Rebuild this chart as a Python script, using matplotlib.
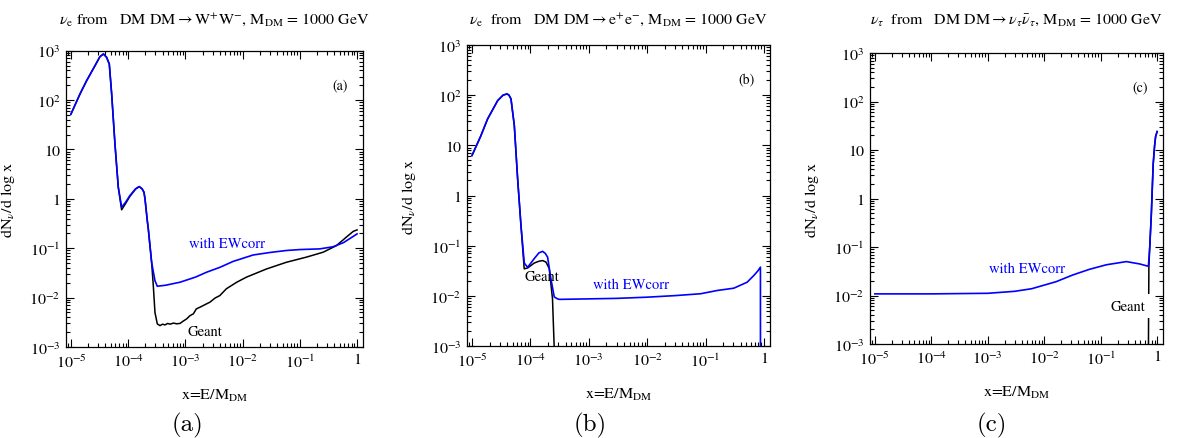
import matplotlib
matplotlib.use('Agg')
import matplotlib.pyplot as plt
from matplotlib.ticker import LogLocator, NullFormatter

plt.rcParams['font.family'] = 'STIXGeneral'
plt.rcParams['mathtext.fontset'] = 'stix'

# panel (a): nu_e from DM DM -> W+W-
a_x_ew = [1e-5, 1.44e-5, 1.88e-5, 2.63e-5, 3.21e-5, 3.7e-5, 4.2e-5, 4.68e-5, 5.15e-5, 5.88e-5,
          6.72e-5, 7.69e-5, 9e-5, 1.07e-4, 1.35e-4, 1.56e-4, 1.75e-4, 1.89e-4, 1.97e-4, 2.16e-4,
          2.25e-4, 2.57e-4, 2.94e-4, 3.23e-4, 4.5e-4, 8.05e-4, 1.5e-3, 2.35e-3, 4e-3, 6.8e-3,
          0.0153, 0.03, 0.058, 0.1, 0.223, 0.38, 0.58, 0.8, 1.0]
a_y_ew = [52, 133, 247, 496, 756, 858, 735, 537, 133, 12.9,
          1.72, 0.68, 0.85, 1.16, 1.6, 1.77, 1.6, 1.36, 1.0, 0.36,
          0.245, 0.052, 0.022, 0.017, 0.0178, 0.0205, 0.026, 0.0327, 0.041, 0.054,
          0.073, 0.082, 0.09, 0.094, 0.097, 0.107, 0.13, 0.165, 0.195]
a_x_geant = [1e-5, 1.44e-5, 1.88e-5, 2.63e-5, 3.21e-5, 3.7e-5, 4.2e-5, 4.68e-5, 5.15e-5, 5.88e-5,
             6.72e-5, 7.69e-5, 9e-5, 1.07e-4, 1.35e-4, 1.56e-4, 1.75e-4, 1.89e-4, 1.97e-4, 2.16e-4,
             2.25e-4, 2.57e-4, 2.75e-4, 2.94e-4, 3.23e-4, 3.6e-4, 4.0e-4, 4.4e-4, 4.9e-4, 5.4e-4,
             6.2e-4, 7e-4, 8.05e-4, 9e-4, 1.05e-3, 1.2e-3, 1.38e-3, 1.55e-3, 1.8e-3, 2.2e-3,
             2.69e-3, 3.3e-3, 4e-3, 5.2e-3, 7.9e-3, 0.0117, 0.0261, 0.0583, 0.13, 0.255,
             0.436, 0.65, 0.86, 1.0]
a_y_geant = [52, 133, 247, 496, 756, 858, 735, 537, 133, 12.9,
             1.72, 0.6, 0.8, 1.12, 1.58, 1.77, 1.6, 1.36, 1.0, 0.36,
             0.245, 0.052, 0.0175, 0.005, 0.00294, 0.00271, 0.0029, 0.0028, 0.003, 0.0029,
             0.00305, 0.00295, 0.003, 0.0033, 0.0037, 0.0043, 0.0047, 0.0059, 0.0064, 0.0072,
             0.0081, 0.0098, 0.011, 0.0151, 0.0205, 0.026, 0.038, 0.052, 0.066, 0.083,
             0.113, 0.168, 0.22, 0.235]

# panel (b): nu_e from DM DM -> e+e-
b_x_ew = [1e-5, 1.4e-5, 1.85e-5, 2.75e-5, 3.4e-5, 3.97e-5, 4.3e-5, 4.65e-5, 5.3e-5, 6.04e-5,
          6.89e-5, 7.85e-5, 8.95e-5, 1.16e-4, 1.4e-4, 1.62e-4, 1.8e-4, 1.97e-4, 2.24e-4, 2.56e-4,
          2.92e-4, 3.12e-4, 1e-3, 3e-3, 0.01, 0.03, 0.082, 0.16, 0.305, 0.516,
          0.67, 0.78, 0.871, 0.872]
b_y_ew = [6.3, 15, 33.7, 78, 100, 106, 100, 84, 24.8, 2.15,
          0.253, 0.045, 0.037, 0.055, 0.072, 0.077, 0.07, 0.059, 0.022, 0.0095,
          0.0087, 0.0085, 0.0087, 0.0089, 0.0094, 0.0101, 0.011, 0.0128, 0.0142, 0.0187,
          0.0254, 0.031, 0.0373, 1e-4]
b_x_geant = [1e-5, 1.4e-5, 1.85e-5, 2.75e-5, 3.4e-5, 3.97e-5, 4.3e-5, 4.65e-5, 5.3e-5, 6.04e-5,
             6.89e-5, 7.83e-5, 9e-5, 1.16e-4, 1.4e-4, 1.62e-4, 1.85e-4, 2.1e-4, 2.39e-4, 2.55e-4,
             2.6e-4]
b_y_geant = [6.3, 15, 33.7, 78, 100, 106, 100, 84, 24.8, 2.15,
             0.253, 0.0345, 0.036, 0.045, 0.049, 0.0505, 0.047, 0.035, 0.0087, 1e-3,
             5e-4]

# panel (c): nu_tau from DM DM -> nu_tau nu_tau-bar
c_x_ew = [1e-5, 1e-4, 1e-3, 3e-3, 6e-3, 0.0163, 0.032, 0.0635, 0.126, 0.285,
          0.492, 0.70, 0.74, 0.79, 0.85, 0.90, 0.94, 1.0]
c_y_ew = [0.0108, 0.0108, 0.0111, 0.0122, 0.0138, 0.0193, 0.0265, 0.0347, 0.043, 0.05,
          0.0447, 0.040, 0.1, 0.49, 5, 12, 19, 24]
c_x_geant = [0.700, 0.705, 0.714, 0.74, 0.79, 0.85, 0.90, 0.94, 1.0]
c_y_geant = [5e-4, 3e-3, 0.040, 0.1, 0.49, 5, 12, 19, 24]

x_ticks = [1e-5, 1e-4, 1e-3, 1e-2, 1e-1, 1]
x_ticklabels = ['$10^{-5}$', '$10^{-4}$', '$10^{-3}$', '$10^{-2}$', '$10^{-1}$', '1']
y_ticks = [1e-3, 1e-2, 1e-1, 1, 10, 1e2, 1e3]
y_ticklabels = ['$10^{-3}$', '$10^{-2}$', '$10^{-1}$', '1', '10', '$10^{2}$', '$10^{3}$']

titles = [r'$\nu_{\rm e}$ from   DM DM$\rightarrow$W$^{+}$W$^{-}$, M$_{\rm DM}$ = 1000 GeV',
          r'$\nu_{\rm e}$  from   DM DM$\rightarrow$e$^{+}$e$^{-}$, M$_{\rm DM}$ = 1000 GeV',
          r'$\nu_\tau$  from   DM DM$\rightarrow\nu_\tau\bar{\nu}_\tau$, M$_{\rm DM}$ = 1000 GeV']
tags = ['(a)', '(b)', '(c)']

W, H = 1177, 439
fig = plt.figure(figsize=(W / 100, H / 100), dpi=100)

# frame boxes in pixels: left, right, top, bottom
boxes = [(66, 363, 51.7, 348), (467, 770, 46, 347), (870, 1163, 54, 345)]
axes = []
for (l, r, t, b) in boxes:
    axes.append(fig.add_axes([l / W, 1 - b / H, (r - l) / W, (b - t) / H]))


def setup(ax, box, title, tag):
    l, r, t, b = box
    ax.set_xscale('log')
    ax.set_yscale('log')
    ax.set_xlim(8.2e-6, 1.27)
    ax.set_ylim(1e-3, 1e3)
    ax.set_xticks(x_ticks, x_ticklabels)
    ax.set_yticks(y_ticks, y_ticklabels)
    ax.xaxis.set_minor_locator(LogLocator(base=10, subs=range(2, 10), numticks=20))
    ax.yaxis.set_minor_locator(LogLocator(base=10, subs=range(2, 10), numticks=20))
    ax.xaxis.set_minor_formatter(NullFormatter())
    ax.yaxis.set_minor_formatter(NullFormatter())
    ax.tick_params(which='both', direction='in', top=True, right=True, labelsize=11.5, width=0.8)
    ax.tick_params(which='major', length=6, pad=4)
    ax.tick_params(which='minor', length=3)
    for s in ax.spines.values():
        s.set_linewidth(0.9)
    ax.set_xlabel('x=E/M$_{\\rm DM}$', fontsize=11.5)
    ax.set_ylabel('dN$_{\\nu}$/d log x', fontsize=11.5)
    ax.xaxis.set_label_coords(0.5, -40 / (b - t))
    ax.yaxis.set_label_coords(-49 / (r - l), 0.5)
    fig.text((l + r) / 2 / W, 1 - 20 / H, title, ha='center', va='center', fontsize=11.5)
    ax.text(0.922, 0.886, tag, transform=ax.transAxes, ha='center', va='center', fontsize=10)


for ax, box, title, tag in zip(axes, boxes, titles, tags):
    setup(ax, box, title, tag)

ax = axes[0]
ax.plot(a_x_geant, a_y_geant, color='black', lw=1.1)
ax.plot(a_x_ew, a_y_ew, color='#0000ff', lw=1.2)
ax.text(1.16e-3, 0.128, 'with EWcorr', color='#0000ff', fontsize=10.5, ha='left', va='center')
ax.text(1.07e-3, 0.0021, 'Geant', color='black', fontsize=10.5, ha='left', va='center')

ax = axes[1]
ax.plot(b_x_geant, b_y_geant, color='black', lw=1.1)
ax.plot(b_x_ew, b_y_ew, color='#0000ff', lw=1.2)
ax.text(5.2e-3, 0.0166, 'with EWcorr', color='#0000ff', fontsize=10.5, ha='center', va='center')
ax.text(1.57e-4, 0.024, 'Geant', color='black', fontsize=10.5, ha='center', va='center')

ax = axes[2]
ax.plot(c_x_geant, c_y_geant, color='black', lw=1.1)
ax.plot(c_x_ew, c_y_ew, color='#0000ff', lw=1.2)
ax.text(5e-3, 0.037, 'with EWcorr', color='#0000ff', fontsize=10.5, ha='center', va='center')
ax.text(0.31, 0.006, 'Geant', color='black', fontsize=10.5, ha='center', va='center', zorder=5,
        bbox=dict(facecolor='white', edgecolor='none', pad=4))

for cx, lab in zip([188, 590, 992], ['(a)', '(b)', '(c)']):
    fig.text(cx / W, 1 - 425 / H, lab, ha='center', va='center', fontsize=18, family='cmr10')

fig.savefig('out.png', dpi=100)
